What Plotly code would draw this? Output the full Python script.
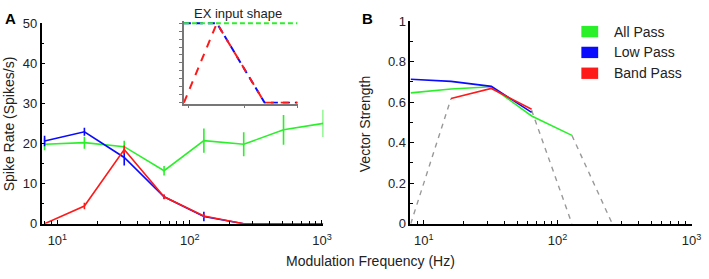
import plotly.graph_objects as go

# ---------------- data ----------------
freq = [8, 16, 32, 64, 128, 256, 512, 1024]

# Panel A: spike rate
rate_all = [19.8, 20.2, 19.2, 13.2, 20.7, 19.8, 23.4, 25.0]
err_all = [1.5, 1.5, 1.5, 1.2, 3.0, 3.0, 3.7, 3.4]
rate_low = [20.6, 22.9, 16.5, 6.7, 1.8, 0, 0, 0]
err_low = [1.3, 1.0, 2.0, 0.5, 1.2, 0, 0, 0]
rate_band = [0.0, 4.4, 18.5, 6.7, 1.9, 0, 0, 0]
err_band = [0, 0.8, 1.0, 0.6, 0.5, 0, 0, 0]

# Panel B: vector strength
vs_freq_all = [8, 16, 32, 64, 128]
vs_all = [0.646, 0.665, 0.676, 0.532, 0.436]
vs_freq_low = [8, 16, 32, 64]
vs_low = [0.713, 0.703, 0.678, 0.55]
vs_freq_band = [16, 32, 64]
vs_band = [0.618, 0.668, 0.565]
# gray dashed drop-off connectors
conn_segments = [
    ([8, 16], [0.0, 0.618]),
    ([64, 128], [0.56, 0.0]),
    ([128, 256], [0.436, 0.0]),
]

# inset: EX input shape
inset_x = [0.0, 0.29, 0.71, 1.0]
shape_all = [1, 1, 1, 1]
shape_low = [1, 1, 0, 0]
shape_band = [0, 1, 0, 0]

labels = ["All Pass", "Low Pass", "Band Pass"]
colors = ["#2af02a", "#0a0aff", "#ff1a1a"]

W, H = 709, 279
def px(x):
    return x / W
def py(y):
    return 1 - y / H

font = "Liberation Sans, Arial, sans-serif"

fig = go.Figure()

# ---- panel A ----
for y, e, c in [(rate_all, err_all, colors[0]), (rate_low, err_low, colors[1]), (rate_band, err_band, colors[2])]:
    fig.add_trace(go.Scatter(
        x=freq, y=y, mode="lines", line=dict(color=c, width=1.6),
        error_y=dict(type="data", array=e, visible=True, color=c, thickness=1.6, width=0),
        xaxis="x", yaxis="y", showlegend=False, cliponaxis=False))

# ---- inset ----
fig.add_trace(go.Scatter(x=inset_x, y=shape_low, mode="lines",
                         line=dict(color=colors[1], width=2, dash="7px,5px"),
                         xaxis="x3", yaxis="y3", showlegend=False))
fig.add_trace(go.Scatter(x=inset_x, y=shape_band, mode="lines",
                         line=dict(color=colors[2], width=2, dash="8px,7px"),
                         xaxis="x3", yaxis="y3", showlegend=False))
fig.add_trace(go.Scatter(x=inset_x, y=shape_all, mode="lines",
                         line=dict(color=colors[0], width=2, dash="5px,3px"),
                         xaxis="x3", yaxis="y3", showlegend=False))

# ---- panel B ----
for xs, ys in conn_segments:
    fig.add_trace(go.Scatter(x=xs, y=ys, mode="lines",
                             line=dict(color="#999999", width=1.4, dash="5px,5px"),
                             xaxis="x2", yaxis="y2", showlegend=False))
fig.add_trace(go.Scatter(x=vs_freq_all, y=vs_all, mode="lines", line=dict(color=colors[0], width=1.6),
                         xaxis="x2", yaxis="y2", showlegend=False))
fig.add_trace(go.Scatter(x=vs_freq_low, y=vs_low, mode="lines", line=dict(color=colors[1], width=1.6),
                         xaxis="x2", yaxis="y2", showlegend=False))
fig.add_trace(go.Scatter(x=vs_freq_band, y=vs_band, mode="lines", line=dict(color=colors[2], width=1.6),
                         xaxis="x2", yaxis="y2", showlegend=False))

minor_vals = [8, 9] + [k * 10 for k in range(2, 10)] + [k * 100 for k in range(2, 10)]
xcommon = dict(type="log", showline=True, linecolor="black", linewidth=1.5, mirror=False,
               showgrid=False, zeroline=False, ticks="inside", ticklen=4, tickwidth=1.2,
               tickcolor="black", ticklabelstandoff=4,
               tickvals=[10, 100, 1000], ticktext=["10<sup>1</sup>", "10<sup>2</sup>", "10<sup>3</sup>"],
               tickfont=dict(family=font, size=13, color="#222"),
               minor=dict(tickvals=minor_vals, ticks="inside", ticklen=2.5, tickcolor="black", tickwidth=1,
                          showgrid=False))
ycommon = dict(showline=True, linecolor="black", linewidth=1.5, showgrid=False, zeroline=False,
               ticks="inside", ticklen=4, tickwidth=1.2, tickcolor="black",
               tickfont=dict(family=font, size=13, color="#222"))

fig.update_layout(
    width=W, height=H, margin=dict(l=0, r=0, t=0, b=0),
    paper_bgcolor="white", plot_bgcolor="rgba(0,0,0,0)",
    xaxis=dict(domain=[px(42), px(327)], range=[0.88, 3.01], anchor="y", **xcommon),
    yaxis=dict(domain=[py(229), py(17)], range=[0, 50], anchor="x", tickvals=[0, 10, 20, 30, 40, 50],
               minor=dict(tickvals=[5, 15, 25, 35, 45], ticks="inside", ticklen=2.5, tickcolor="black"),
               **ycommon),
    xaxis2=dict(domain=[px(415), px(700)], range=[0.90, 3.005], anchor="y2", **xcommon),
    yaxis2=dict(domain=[py(229), py(15)], range=[0, 1], anchor="x2",
                tickvals=[0, 0.2, 0.4, 0.6, 0.8, 1], ticktext=["0", "0.2", "0.4", "0.6", "0.8", "1"],
                minor=dict(tickvals=[0.1, 0.3, 0.5, 0.7, 0.9], ticks="inside", ticklen=2.5, tickcolor="black"),
                **ycommon),
    xaxis3=dict(domain=[px(186), px(301)], range=[0, 1], anchor="y3", showline=True, linecolor="#777",
                linewidth=1.5, showgrid=False, zeroline=False, ticks="outside", ticklen=3, tickcolor="#777",
                tickvals=[0.04, 0.53, 1.0], showticklabels=False),
    yaxis3=dict(domain=[py(102), py(15)], range=[-0.01, 1.025], anchor="x3", showline=True, linecolor="#777",
                linewidth=1.5, showgrid=False, zeroline=False, ticks="outside", ticklen=3, tickcolor="#777",
                tickvals=[k / 10 for k in range(11)], showticklabels=False),
    showlegend=False,
)

def note(text, x, y, size, angle=0, xanchor="center", bold=False):
    return dict(text=text, x=px(x), y=py(y), xref="paper", yref="paper", showarrow=False,
                xanchor=xanchor, yanchor="middle", textangle=angle,
                font=dict(family=font, size=size, color="black" if bold else "#222"))

ann = [
    note("<b>A</b>", 11, 12, 15, bold=True),
    note("<b>B</b>", 372, 12, 15, bold=True),
    note("Spike Rate (Spikes/s)", 9, 123, 14, angle=-90),
    note("Vector Strength", 370, 123, 14, angle=-90),
    note("Modulation Frequency (Hz)", 375, 268, 14),
    note("EX input shape", 241, 7, 13),
]

shapes = []
for i, (lab, c) in enumerate(zip(labels, colors)):
    yc = 26 + 22 * i
    shapes.append(dict(type="rect", xref="paper", yref="paper", x0=px(588), x1=px(605),
                       y0=py(yc + 6), y1=py(yc - 6), fillcolor=c, line=dict(width=0)))
    ann.append(note(lab, 619, yc, 14, xanchor="left"))

fig.update_layout(annotations=ann, shapes=shapes)
fig.write_html("out.html", config={"displayModeBar": False},
               post_script="document.body.style.margin='0';")
